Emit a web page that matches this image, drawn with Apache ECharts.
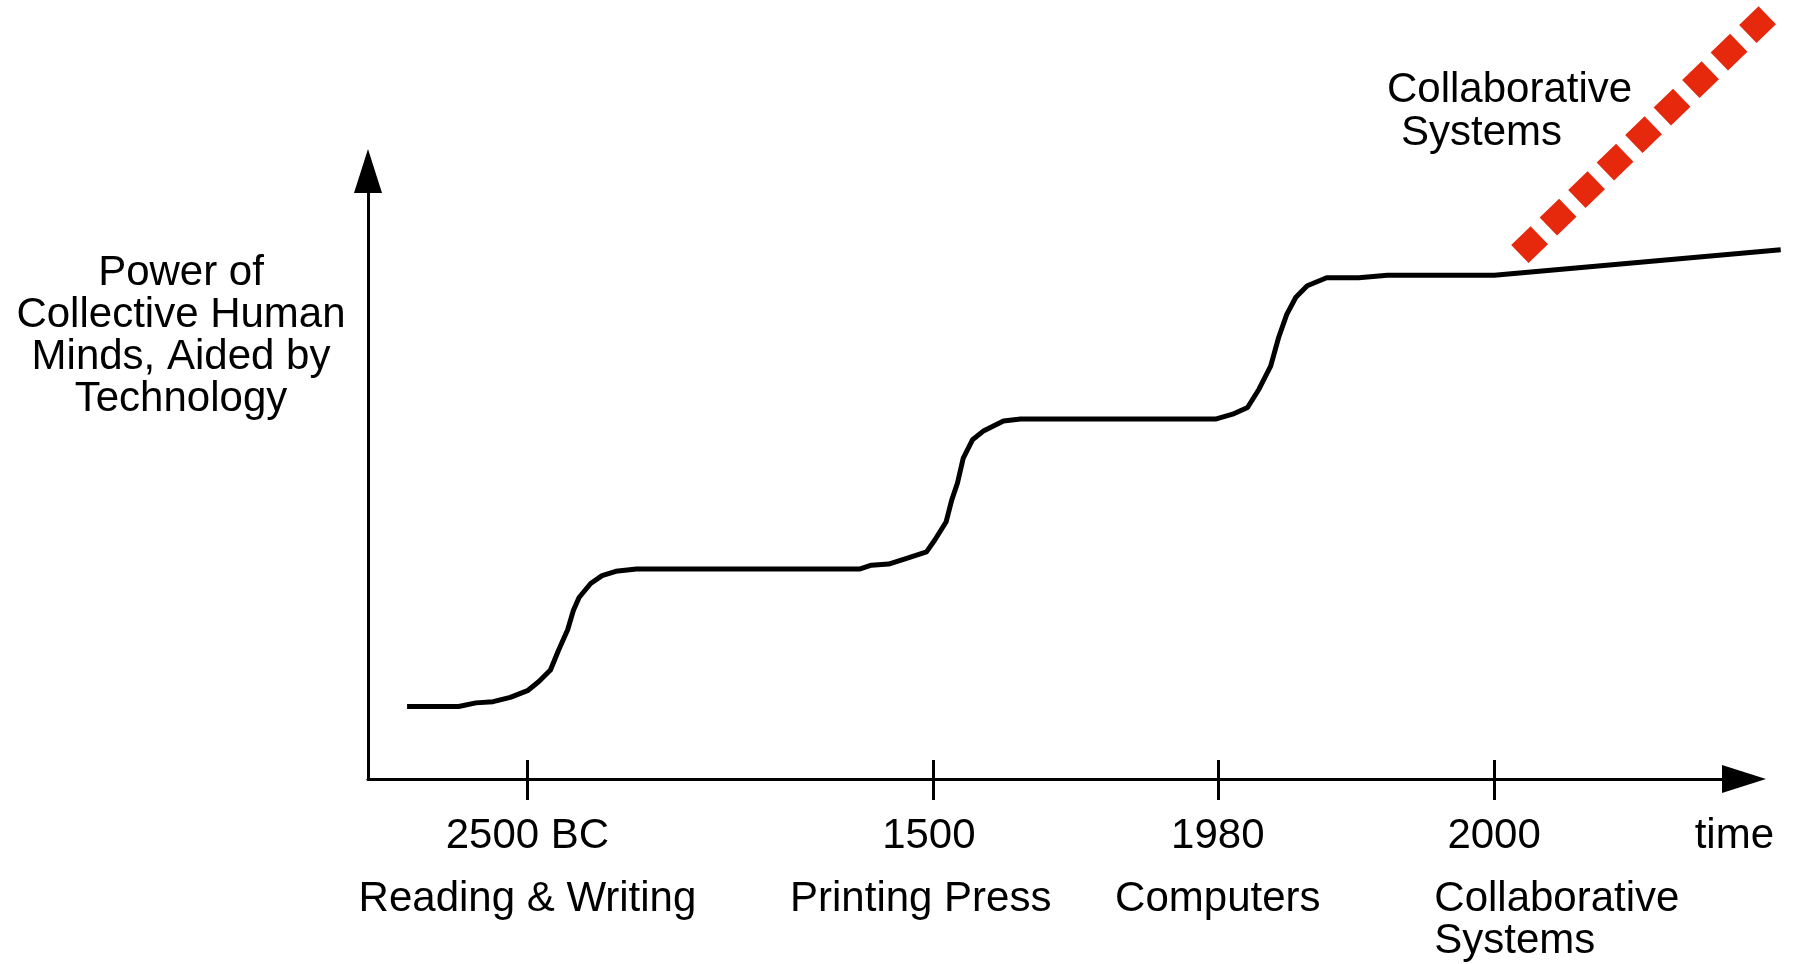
<!DOCTYPE html>
<html>
<head>
<meta charset="UTF-8">
<title>Collective Human Minds</title>
<script src="https://cdn.jsdelivr.net/npm/echarts@6.0.0/dist/echarts.min.js"></script>
<style>
	html, body { margin: 0; padding: 0; background: #fff; }
	#main { width: 1798px; height: 964px; }
</style>
</head>
<body>
<div id="main"></div>
<script type="text/javascript">
	// relative time (0-100 along the arrow) and relative power (0-100 up the arrow)
	var timePos = [2.84, 6.59, 7.84, 9.09, 10.34, 11.59, 12.42, 13.26, 13.84, 14.51, 14.93, 15.34, 16.18, 17.01, 18.01, 19.51,
		35.76, 36.59, 37.84, 39.09, 40.59, 41.18, 42.01, 42.42, 42.84, 43.26, 43.93, 44.76, 46.18, 47.43,
		61.59, 62.84, 63.92, 64.75, 65.60, 66.18, 66.77, 67.43, 68.26, 69.67, 72.00, 74.09, 81.85, 102.67];
	var powerVals = [11.9, 11.9, 12.5, 12.7, 13.4, 14.5, 16.0, 17.9, 21.1, 24.5, 27.7, 29.8, 32.1, 33.4, 34.1, 34.5,
		34.5, 35.1, 35.3, 36.2, 37.3, 39.2, 42.2, 45.8, 48.6, 52.7, 55.7, 57.2, 58.8, 59.1,
		59.1, 59.9, 61.0, 64.0, 67.8, 72.5, 76.3, 79.1, 81.0, 82.3, 82.3, 82.7, 82.7, 86.9];

	// dashed projection for collaborative systems
	var collabPos = [83.71, 101.69];
	var collabVals = [86.2, 125.4];

	// axis ticks and labels
	var tickPos = [11.59, 41.09, 61.76, 81.84];
	var yearPos = [11.59, 40.76, 61.76, 81.84];
	var yearLabels = ['2500 BC', '1500', '1980', '2000'];
	var timeLabelPos = 99.3;
	var eventPos = [11.59, 40.17, 61.76, 86.4];
	var eventLabels = ['Reading & Writing', 'Printing Press', 'Computers', 'Collaborative\nSystems'];

	var yName = 'Power of\nCollective Human\nMinds, Aided by\nTechnology';
	var fontFam = '"Liberation Sans", Arial, Helvetica, sans-serif';

	function findIdx(arr, v) {
		for (var i = 0; i < arr.length; i++) {
			if (Math.abs(arr[i] - v) < 0.001) return i;
		}
		return -1;
	}

	var lineData = [];
	for (var i = 0; i < timePos.length; i++) lineData.push([timePos[i], powerVals[i]]);
	var collabData = [];
	for (var i = 0; i < collabPos.length; i++) collabData.push([collabPos[i], collabVals[i]]);

	// grid 0 carries the visible axes (0..100), grid 1 uses the same scale but reaches
	// past the arrow heads so the lines are not cut at the axis ends
	var pxX = 13.76, pxY = 6.09;
	var dataMaxX = 103.5, dataMaxY = 128;

	var myChart = echarts.init(document.getElementById('main'), null, { renderer: 'canvas' });
	var option = {
		animation: false,
		backgroundColor: '#fff',
		grid: [
			{ left: 368, right: 54, top: 171, bottom: 185, containLabel: false, outerBoundsMode: 'none' },
			{ left: 368, width: dataMaxX * pxX, top: 964 - 185 - dataMaxY * pxY, height: dataMaxY * pxY, containLabel: false, outerBoundsMode: 'none' }
		],
		xAxis: [{
			type: 'value', gridIndex: 0, min: 0, max: 100, position: 'bottom',
			axisLine: { show: true, symbol: ['none', 'triangle'], symbolSize: [28, 44], lineStyle: { color: '#000', width: 3 } },
			axisTick: { show: true, inside: false, length: 21, customValues: tickPos, lineStyle: { color: '#000', width: 3 } },
			axisLabel: {
				show: true, margin: 36, color: '#000', fontSize: 42, lineHeight: 42, fontFamily: fontFam,
				customValues: yearPos.concat([timeLabelPos]),
				formatter: function (v) {
					if (Math.abs(v - timeLabelPos) < 0.001) return 'time';
					var k = findIdx(yearPos, v);
					return k >= 0 ? yearLabels[k] : '';
				}
			},
			splitLine: { show: false }
		}, {
			type: 'value', gridIndex: 0, min: 0, max: 100, position: 'bottom',
			axisLine: { show: false },
			axisTick: { show: true, inside: true, length: 19, customValues: tickPos, lineStyle: { color: '#000', width: 3 } },
			axisLabel: {
				show: true, margin: 99, color: '#000', fontSize: 42, lineHeight: 42, fontFamily: fontFam,
				customValues: eventPos,
				formatter: function (v) {
					var k = findIdx(eventPos, v);
					if (k < 0) return '';
					var parts = eventLabels[k].split('\n');
					return parts.map(function (p) { return '{l|' + p + '}'; }).join('\n');
				},
				rich: { l: { align: 'left', fontSize: 42, lineHeight: 42, color: '#000', fontFamily: fontFam } }
			},
			splitLine: { show: false }
		}, {
			type: 'value', gridIndex: 1, min: 0, max: dataMaxX, show: false
		}],
		yAxis: [{
			type: 'value', gridIndex: 0, min: 0, max: 100,
			axisLine: { show: true, symbol: ['none', 'triangle'], symbolSize: [28, 44], lineStyle: { color: '#000', width: 3 } },
			axisTick: { show: false },
			axisLabel: { show: false },
			splitLine: { show: false }
		}, {
			type: 'value', gridIndex: 1, min: 0, max: dataMaxY, show: false
		}],
		graphic: [
			{ type: 'text', x: 181, y: 336, style: { text: yName, font: '42px ' + fontFam, lineHeight: 42, fill: '#000', align: 'center', verticalAlign: 'middle' } },
			{ type: 'text', x: 1387, y: 90, style: { text: 'Collaborative', font: '42px ' + fontFam, fill: '#000', align: 'left', verticalAlign: 'middle' } },
			{ type: 'text', x: 1401, y: 133, style: { text: 'Systems', font: '42px ' + fontFam, fill: '#000', align: 'left', verticalAlign: 'middle' } }
		],
		series: [{
			name: 'power', type: 'line', xAxisIndex: 2, yAxisIndex: 1, data: lineData, showSymbol: false, symbol: 'none',
			lineStyle: { color: '#000', width: 5, join: 'round' }
		}, {
			name: 'collaborative', type: 'line', xAxisIndex: 2, yAxisIndex: 1, data: collabData, showSymbol: false, symbol: 'none',
			lineStyle: { color: '#e6280c', width: 25, type: [27, 12.6], cap: 'butt' }
		}]
	};
	myChart.setOption(option);
</script>
</body>
</html>
